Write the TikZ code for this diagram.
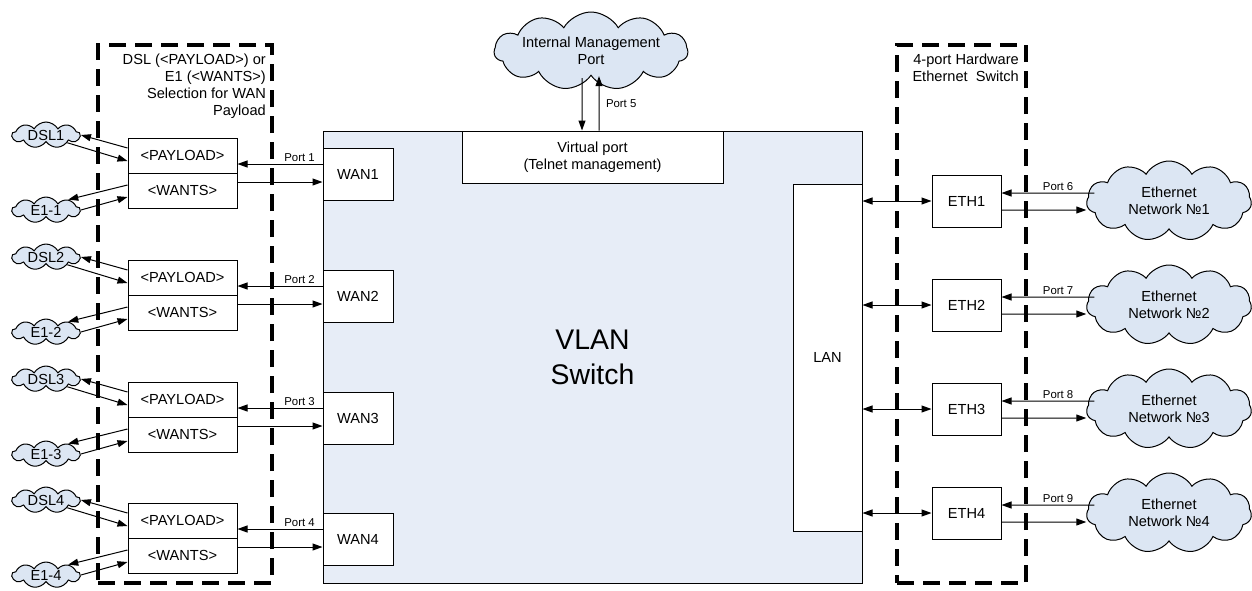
\documentclass[tikz,border=0pt]{standalone}
\usepackage{fontspec}
\setmainfont{Liberation Sans}
\usetikzlibrary{shapes.symbols,arrows.meta,calc}
\definecolor{vlanfill}{RGB}{231,237,247}
\definecolor{cloudfill}{RGB}{220,230,243}
\newcommand{\fn}{\fontsize{14.6}{17}\selectfont}
\newcommand{\fsm}{\fontsize{11.4}{13}\selectfont}
\newcommand{\fbig}{\fontsize{28.4}{35}\selectfont}
\begin{document}
\begin{tikzpicture}[x=1pt,y=-1pt,
  box/.style={draw,fill=white,line width=1pt,inner sep=0pt,font=\fn,align=center},
  cld/.style={cloud,draw,fill=cloudfill,line width=1pt,cloud ignores aspect,inner sep=0pt,font=\fn,align=center,cloud puff arc=120},
  arr/.style={line width=1pt,-{Triangle[length=10pt,width=7pt]}},
  darr/.style={line width=1pt,{Triangle[length=10pt,width=7pt]}-{Triangle[length=10pt,width=7pt]}},
  dbox/.style={draw,line width=3.5pt,dash pattern=on 17pt off 9pt,inner sep=0pt},
  plabel/.style={font=\fsm,inner sep=1.5pt}
]
\useasboundingbox (0,0) rectangle (1252,590);

% main VLAN switch
\node[draw,fill=vlanfill,line width=1pt,inner sep=0pt,minimum width=539pt,minimum height=452pt,font=\fbig,align=center] (vlan) at (592.5,357) {VLAN\\Switch};
\node[box,minimum width=261pt,minimum height=52pt] (vp) at (592.5,157) {Virtual port\\(Telnet management)};
\node[box,minimum width=69pt,minimum height=347pt] (lan) at (827.5,357.5) {LAN};

% dashed groups
\node[dbox,minimum width=174pt,minimum height=538pt] (selbox) at (185,314) {};
\node[dbox,minimum width=129pt,minimum height=538pt] (swbox) at (961.5,314) {};
\node[font=\fn,align=right,anchor=north east,inner sep=0pt] (seltitle) at (266,54) {DSL (<PAYLOAD>) or\\E1 (<WANTS>)\\Selection for WAN\\Payload};
\node[font=\fn,align=right,anchor=north east,inner sep=0pt] (swtitle) at (1019,54) {4-port Hardware\\Ethernet\ \ Switch};

% management cloud
\node[cld,cloud puffs=11,minimum width=188pt,minimum height=78pt] (imp) at (591,51) {Internal Management\\Port};
\draw[arr] ($(imp.south)+(-9,2)$) -- ($(vp.north)+(-10.5,0)$);
\draw[arr] ($(vp.north)+(6.5,0)$) -- node[right=5pt,plabel] {Port 5} ($(imp.south)+(8,0)$);

% WAN side
\foreach \i/\T in {1/138,2/260,3/382,4/503}{
  \node[box,minimum width=109pt,minimum height=35pt] (pay\i) at (182.5,\T+17.5) {<PAYLOAD>};
  \node[box,minimum width=109pt,minimum height=35pt] (want\i) at (182.5,\T+52.5) {<WANTS>};
  \node[box,minimum width=70pt,minimum height=52pt] (wan\i) at (358,\T+36) {WAN\i};
  \node[cld,cloud puffs=9,minimum width=68pt,minimum height=26pt] (dsl\i) at (46,\T-3) {DSL\i};
  \node[cld,cloud puffs=9,minimum width=68pt,minimum height=26pt] (e1\i) at (46,\T+72) {E1-\i};
  \draw[arr] ([yshift=7.5pt]pay\i.west) -- (dsl\i.0);
  \draw[arr] (dsl\i.-20) -- ([yshift=-5.5pt]pay\i.west);
  \draw[arr] ([yshift=5.5pt]want\i.west) -- (e1\i.25);
  \draw[arr] (e1\i.0) -- ([yshift=-6.5pt]want\i.west);
  \draw[arr] ([yshift=-8.5pt]pay\i.east -| wan\i.west) -- node[pos=0.27,above,plabel] {Port \i} ([yshift=-8.5pt]pay\i.east);
  \draw[arr] ([yshift=8.5pt]want\i.east) -- ([yshift=8.5pt]want\i.east -| wan\i.west);
}

% Ethernet side
\foreach \i/\c/\p in {1/201/6,2/305/7,3/409/8,4/513/9}{
  \node[box,minimum width=69pt,minimum height=52pt] (eth\i) at (966.5,\c) {ETH\i};
  \node[cld,cloud puffs=11,minimum width=165pt,minimum height=80pt] (net\i) at (1169,\c) {Ethernet\\Network №\i};
  \draw[darr] (lan.east |- eth\i.west) -- (eth\i.west);
  \draw[arr] ($(net\i.west)+(8,-8)$) -- node[pos=0.39,above,plabel] {Port \p} ($(eth\i.east)+(0,-8)$);
  \draw[arr] ($(eth\i.east)+(0,9)$) -- ($(net\i.west)+(0,9)$);
}
\end{tikzpicture}
\end{document}
